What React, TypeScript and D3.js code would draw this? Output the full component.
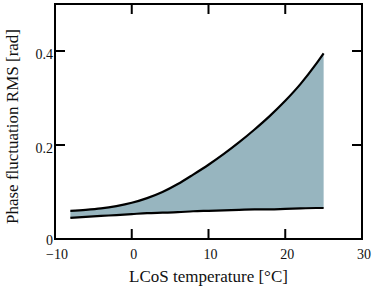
import * as d3 from 'd3'
import { useRef, useEffect } from 'react'

// temperatures (°C) sampled along the curves
const temps = [-8, -6, -4, -2, 0, 2, 4, 6, 8, 10, 12, 14, 16, 18, 20, 22, 24, 25]
// upper bound of the phase fluctuation RMS [rad]
const upper = [0.060, 0.062, 0.065, 0.070, 0.077, 0.087, 0.100, 0.117, 0.137, 0.158, 0.181, 0.206, 0.233, 0.262, 0.294, 0.330, 0.372, 0.395]
// lower bound
const lower = [0.045, 0.047, 0.049, 0.051, 0.053, 0.055, 0.056, 0.057, 0.059, 0.060, 0.061, 0.062, 0.063, 0.063, 0.064, 0.065, 0.066, 0.066]

const xTicks = [-10, 0, 10, 20, 30]
const xTickLabels = ['\u221210', '0', '10', '20', '30']
const yTicks = [0, 0.2, 0.4]
const yTickLabels = ['0', '0.2', '0.4']

const xTitle = 'LCoS temperature [°C]'
const yTitle = 'Phase fluctuation RMS [rad]'

const W = 375
const H = 290
const margin = { top: 4, right: 13, bottom: 51, left: 55 }

export default function App() {
  const svgRef = useRef(null)

  useEffect((): void => {
    const SVG = d3.select(svgRef.current)
    SVG.selectAll('*').remove()

    const x0 = margin.left
    const x1 = W - margin.right
    const y0 = H - margin.bottom
    const y1 = margin.top

    const xScale = d3.scaleLinear().domain([-10, 30]).range([x0, x1])
    const yScale = d3.scaleLinear().domain([0, 0.5]).range([y0, y1])

    const rows = temps.map((t, i) => ({ t, hi: upper[i], lo: lower[i] }))

    const area = d3.area<any>()
      .x(d => xScale(d.t))
      .y0(d => yScale(d.lo))
      .y1(d => yScale(d.hi))
      .curve(d3.curveMonotoneX)

    SVG.append('path')
      .attr('d', area(rows))
      .attr('fill', '#97b5bf')

    const lineHi = d3.line<any>().x(d => xScale(d.t)).y(d => yScale(d.hi)).curve(d3.curveMonotoneX)
    const lineLo = d3.line<any>().x(d => xScale(d.t)).y(d => yScale(d.lo)).curve(d3.curveMonotoneX)

    SVG.append('path').attr('d', lineHi(rows)).attr('fill', 'none').attr('stroke', '#000').attr('stroke-width', 2.2)
    SVG.append('path').attr('d', lineLo(rows)).attr('fill', 'none').attr('stroke', '#000').attr('stroke-width', 2.2)

    // frame
    SVG.append('rect')
      .attr('x', x0).attr('y', y1)
      .attr('width', x1 - x0).attr('height', y0 - y1)
      .attr('fill', 'none').attr('stroke', '#000').attr('stroke-width', 2)

    const tickLen = 10
    const inner = xTicks.filter(t => t > -10 && t < 30)
    inner.forEach(t => {
      SVG.append('line').attr('x1', xScale(t)).attr('x2', xScale(t)).attr('y1', y0).attr('y2', y0 - tickLen)
        .attr('stroke', '#000').attr('stroke-width', 2)
      SVG.append('line').attr('x1', xScale(t)).attr('x2', xScale(t)).attr('y1', y1).attr('y2', y1 + tickLen)
        .attr('stroke', '#000').attr('stroke-width', 2)
    })
    yTicks.filter(t => t > 0).forEach(t => {
      SVG.append('line').attr('x1', x0).attr('x2', x0 + tickLen).attr('y1', yScale(t)).attr('y2', yScale(t))
        .attr('stroke', '#000').attr('stroke-width', 2)
      SVG.append('line').attr('x1', x1).attr('x2', x1 - tickLen).attr('y1', yScale(t)).attr('y2', yScale(t))
        .attr('stroke', '#000').attr('stroke-width', 2)
    })

    SVG.selectAll('text.xt')
      .data(xTicks)
      .enter()
      .append('text')
      .attr('class', 'xt')
      .attr('x', (d: number) => xScale(d) + 2)
      .attr('y', y0 + 20)
      .attr('text-anchor', 'middle')
      .attr('font-size', 14)
      .text((d: number, i: number) => xTickLabels[i])

    SVG.selectAll('text.yt')
      .data(yTicks)
      .enter()
      .append('text')
      .attr('class', 'yt')
      .attr('x', x0 - 2)
      .attr('y', (d: number) => yScale(d) + (d === 0 ? 6 : 8))
      .attr('text-anchor', 'end')
      .attr('font-size', 14)
      .text((d: number, i: number) => yTickLabels[i])

    SVG.append('text')
      .attr('x', (x0 + x1) / 2)
      .attr('y', 282)
      .attr('text-anchor', 'middle')
      .attr('font-size', 17)
      .text(xTitle)

    SVG.append('text')
      .attr('transform', `translate(18,${(y0 + y1) / 2 + 5}) rotate(-90)`)
      .attr('text-anchor', 'middle')
      .attr('font-size', 17)
      .text(yTitle)

    SVG.selectAll('text')
      .style('font-family', '"Liberation Serif", serif')
      .style('fill', '#111')
  }, [])

  return (
    <svg ref={svgRef} width={W} height={H}
      style={{ position: 'absolute', left: 0, top: 0, background: '#fff' }} />
  )
}
